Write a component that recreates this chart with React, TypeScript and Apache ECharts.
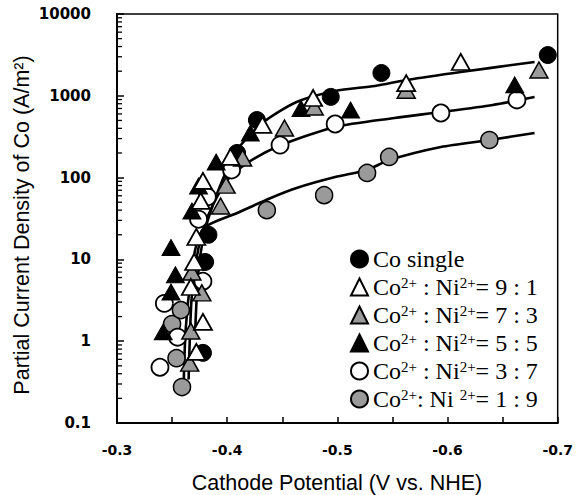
import React, { useEffect, useRef } from 'react';
import * as echarts from 'echarts';

// ---- Data (x: V vs. NHE, y: A/m^2) ----
const coSingle = [[-0.378, 0.72], [-0.380, 9.3], [-0.383, 20], [-0.409, 200], [-0.427, 505], [-0.494, 970], [-0.540, 1900], [-0.691, 3150]];
const ratio91 = [[-0.372, 0.74], [-0.378, 1.72], [-0.367, 4.6], [-0.370, 9.3], [-0.372, 18.8], [-0.376, 52], [-0.378, 91], [-0.403, 179], [-0.432, 440], [-0.478, 940], [-0.5625, 1430], [-0.612, 2590]];
const ratio73 = [[-0.366, 0.54], [-0.367, 1.33], [-0.377, 3.9], [-0.368, 7.0], [-0.394, 45], [-0.399, 81], [-0.414, 174], [-0.452, 404], [-0.479, 730], [-0.5625, 1170], [-0.683, 2065]];
const ratio55 = [[-0.342, 1.3], [-0.349, 4.0], [-0.353, 6.5], [-0.349, 14], [-0.368, 39], [-0.374, 79], [-0.390, 155], [-0.421, 350], [-0.467, 700], [-0.512, 670], [-0.661, 1360]];
const ratio37 = [[-0.339, 0.48], [-0.355, 1.12], [-0.343, 2.9], [-0.378, 5.4], [-0.374, 31], [-0.382, 58], [-0.404, 124], [-0.448, 250], [-0.498, 452], [-0.594, 616], [-0.663, 890]];
const ratio19 = [[-0.359, 0.275], [-0.354, 0.62], [-0.350, 1.62], [-0.358, 2.4], [-0.436, 40], [-0.488, 61], [-0.527, 114], [-0.547, 179], [-0.638, 288]];

// fitted curves
const fitUpper = [[-0.371, 1.37], [-0.374, 7.4], [-0.380, 22.9], [-0.392, 70], [-0.409, 217], [-0.432, 465], [-0.463, 840], [-0.498, 1145], [-0.534, 1320], [-0.563, 1560], [-0.612, 1955], [-0.679, 2590]];
const fitMiddle = [[-0.365, 0.34], [-0.3676, 3.2], [-0.372, 9.8], [-0.378, 22.9], [-0.387, 46], [-0.4005, 94], [-0.4157, 143], [-0.445, 237], [-0.498, 416], [-0.552, 536], [-0.5945, 634], [-0.641, 773], [-0.679, 966]];
const fitLower = [[-0.3605, 0.29], [-0.3623, 1.37], [-0.3667, 5.6], [-0.372, 15], [-0.380, 24.9], [-0.409, 36.9], [-0.439, 56], [-0.463, 74.7], [-0.498, 101.6], [-0.527, 124], [-0.547, 164], [-0.594, 237], [-0.638, 288], [-0.679, 351]];

const seriesNames = ['Co single', '9:1', '7:3', '5:5', '3:7', '1:9'];
const legendLabels: Record<string, string> = {
  'Co single': '{t|Co single}',
  '9:1': '{t|Co}{s|2+}{t| : Ni}{s|2+}{t|= 9 : 1}',
  '7:3': '{t|Co}{s|2+}{t| : Ni}{s|2+}{t|= 7 : 3}',
  '5:5': '{t|Co}{s|2+}{t| : Ni}{s|2+}{t|= 5 : 5}',
  '3:7': '{t|Co}{s|2+}{t| : Ni}{s|2+}{t|= 3 : 7}',
  '1:9': '{t|Co}{s|2+}{t|: Ni }{s|2+}{t|= 1 : 9}',
};

const yMinorMultipliers = [2, 3, 4, 5, 6, 7, 8, 9];
const yDecades = [0.1, 1, 10, 100, 1000];

export default function App() {
  const ref = useRef<HTMLDivElement>(null);
  useEffect(() => {
    if (!ref.current) return;
    const chart = echarts.init(ref.current, undefined, { renderer: 'svg' });
    const hatch = '#9a9a9a';
    const minorTicks: number[][] = [];
    yDecades.forEach((d) => yMinorMultipliers.forEach((m) => minorTicks.push([-0.3, d * m])));

    const fitLine = (data: number[][]) => ({
      type: 'line',
      data,
      smooth: 0.25,
      showSymbol: false,
      symbol: 'none',
      lineStyle: { color: '#000', width: 2.6 },
      z: 1,
      silent: true,
    });
    const triSize = [18, 16];
    const circSize = 17;

    const option: any = {
      animation: false,
      grid: { left: 117, right: 9, top: 14, bottom: 72, show: true, borderColor: '#000', borderWidth: 1.5 },
      xAxis: {
        type: 'value',
        min: -0.7,
        max: -0.3,
        interval: 0.1,
        inverse: true,
        axisLine: { lineStyle: { color: '#000', width: 2 } },
        axisTick: { inside: true, length: 6, lineStyle: { color: '#000', width: 1.5 } },
        minorTick: { show: true, splitNumber: 2, length: 6, lineStyle: { color: '#000', width: 1.5 } },
        splitLine: { show: false },
        axisLabel: {
          margin: 20,
          color: '#000',
          fontFamily: 'DejaVu Sans',
          fontWeight: 'bold',
          fontSize: 14,
          formatter: (v: number) => v.toFixed(1),
        },
      },
      yAxis: {
        type: 'log',
        logBase: 10,
        min: 0.1,
        max: 10000,
        axisLine: { lineStyle: { color: '#000', width: 2 } },
        axisTick: { inside: true, length: 7, lineStyle: { color: '#000', width: 1.5 } },
        splitLine: { show: false },
        axisLabel: {
          margin: 26,
          color: '#000',
          fontFamily: 'DejaVu Sans',
          fontWeight: 'bold',
          fontSize: 15,
          formatter: (v: number) => (v < 1 ? v.toFixed(1) : String(Math.round(v))),
        },
      },
      legend: {
        orient: 'vertical',
        left: 345,
        top: 242,
        itemWidth: 17,
        itemHeight: 17,
        itemGap: 4,
        selectedMode: false,
        data: seriesNames,
        formatter: (name: string) => legendLabels[name],
        textStyle: {
          color: '#000',
          fontFamily: 'Liberation Serif',
          fontSize: 24,
          rich: {
            t: { fontFamily: 'Liberation Serif', fontSize: 24, lineHeight: 24, color: '#000' },
            s: { fontFamily: 'Liberation Serif', fontSize: 15, lineHeight: 16, verticalAlign: 'top', color: '#000' },
          },
        },
      },
      graphic: [
        {
          type: 'text',
          x: 337,
          y: 483,
          style: {
            text: 'Cathode Potential (V vs. NHE)',
            font: '21.5px "Liberation Sans", Arial, sans-serif',
            fill: '#000',
            textAlign: 'center',
            align: 'center',
            textVerticalAlign: 'middle',
            verticalAlign: 'middle',
          },
        },
        {
          type: 'text',
          x: 22,
          y: 225,
          rotation: Math.PI / 2,
          style: {
            text: 'Partial Current Density of Co (A/m\u00B2)',
            font: '21.5px "Liberation Sans", Arial, sans-serif',
            fill: '#000',
            textAlign: 'center',
            align: 'center',
            textVerticalAlign: 'middle',
            verticalAlign: 'middle',
          },
        },
      ],
      series: [
        {
          type: 'custom',
          name: 'minorTicks',
          data: minorTicks,
          silent: true,
          z: 5,
          renderItem: (params: any, api: any) => {
            const p = api.coord([api.value(0), api.value(1)]);
            return {
              type: 'line',
              shape: { x1: p[0], y1: p[1], x2: p[0] + 5, y2: p[1] },
              style: { stroke: '#000', lineWidth: 1.3 },
            };
          },
        },
        fitLine(fitUpper),
        fitLine(fitMiddle),
        fitLine(fitLower),
        {
          type: 'scatter', name: '1:9', data: ratio19, symbol: 'circle', symbolSize: circSize, z: 3,
          itemStyle: { color: hatch, borderColor: '#000', borderWidth: 1.5, opacity: 1 },
        },
        {
          type: 'scatter', name: '3:7', data: ratio37, symbol: 'circle', symbolSize: circSize, z: 3,
          itemStyle: { color: '#fff', borderColor: '#000', borderWidth: 1.8, opacity: 1 },
        },
        {
          type: 'scatter', name: 'Co single', data: coSingle, symbol: 'circle', symbolSize: circSize, z: 3,
          itemStyle: { color: '#000', borderColor: '#000', borderWidth: 1, opacity: 1 },
        },
        {
          type: 'scatter', name: '5:5', data: ratio55, symbol: 'triangle', symbolSize: triSize, z: 3,
          itemStyle: { color: '#000', borderColor: '#000', borderWidth: 1, opacity: 1 },
        },
        {
          type: 'scatter', name: '7:3', data: ratio73, symbol: 'triangle', symbolSize: triSize, z: 3,
          itemStyle: { color: hatch, borderColor: '#000', borderWidth: 1.5, opacity: 1 },
        },
        {
          type: 'scatter', name: '9:1', data: ratio91, symbol: 'triangle', symbolSize: triSize, z: 3,
          itemStyle: { color: '#fff', borderColor: '#000', borderWidth: 1.8, opacity: 1 },
        },
      ],
    };
    chart.setOption(option);
    return () => chart.dispose();
  }, []);
  return <div ref={ref} style={{ position: 'fixed', left: 0, top: 0, width: 576, height: 495, background: '#fff' }} />;
}
